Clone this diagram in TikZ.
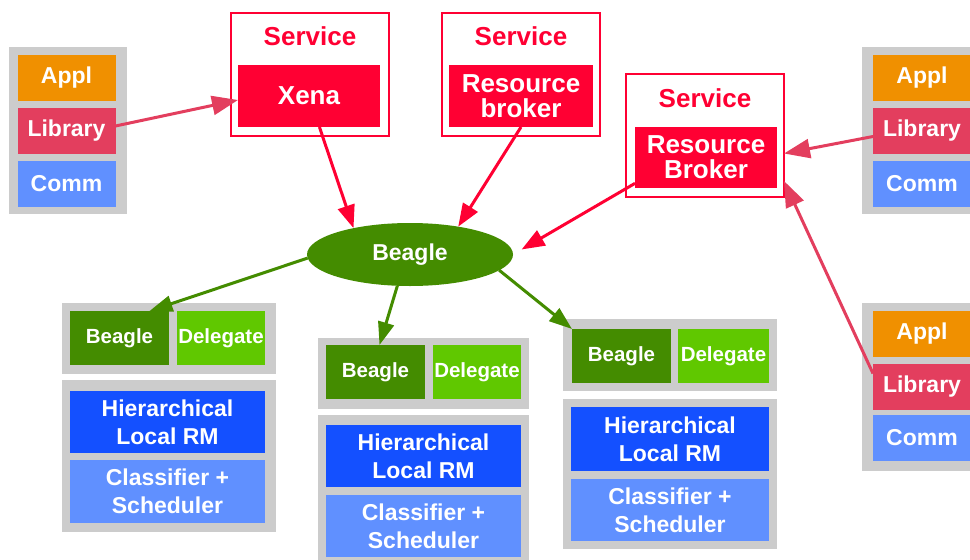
\documentclass[tikz,border=0pt]{standalone}
\usepackage{fontspec}
\setmainfont{Liberation Sans}
\usetikzlibrary{arrows.meta,shapes.geometric}
\definecolor{cgray}{HTML}{CCCCCC}
\definecolor{corange}{HTML}{F09000}
\definecolor{clib}{HTML}{E33E5E}
\definecolor{clblue}{HTML}{6090FF}
\definecolor{cblue}{HTML}{1450FF}
\definecolor{cdgreen}{HTML}{448C00}
\definecolor{clgreen}{HTML}{60C800}
\definecolor{cred}{HTML}{FF0033}
\begin{document}
\begin{tikzpicture}[x=1pt,y=-1pt,
  box/.style={inner sep=0pt, outer sep=0pt, text=white, align=center, font=\bfseries\fontsize{23}{28}\selectfont},
  bgbox/.style={inner sep=0pt, outer sep=0pt, fill=cgray},
  stk/.style={box, minimum width=98pt, minimum height=46pt},
  small/.style={box, minimum height=54pt, font=\bfseries\fontsize{20.5}{24}\selectfont},
  svcout/.style={inner sep=0pt, outer sep=0pt, draw=cred, line width=2.5pt, fill=white, minimum width=158pt, minimum height=123pt},
  svcin/.style={box, fill=cred, minimum height=62pt, font=\bfseries\fontsize{26}{25}\selectfont},
  svclabel/.style={inner sep=0pt, text=cred, font=\bfseries\fontsize{26}{28}\selectfont},
  redarr/.style={draw=cred, line width=3pt, -{Triangle[length=23pt,width=17pt]}},
  libarr/.style={draw=clib, line width=3pt, -{Triangle[length=26pt,width=19pt]}},
  grnarr/.style={draw=cdgreen, line width=3pt, -{Triangle[length=23pt,width=16pt]}}
]
\clip (0,0) rectangle (970,560);
\fill[white] (0,0) rectangle (970,560);

% left stack
\node[bgbox, minimum width=118pt, minimum height=167pt] (stk1) at (68,130.5) {};
\node[stk, fill=corange] (appl1) at (66.5,78) {Appl};
\node[stk, fill=clib] (lib1) at (66.5,131) {Library};
\node[stk, fill=clblue] (comm1) at (66.5,184) {Comm};

% top right stack
\node[bgbox, minimum width=119pt, minimum height=167pt] (stk2) at (921.5,130.5) {};
\node[stk, fill=corange] (appl2) at (922,78) {Appl};
\node[stk, fill=clib] (lib2) at (922,130.5) {Library};
\node[stk, fill=clblue] (comm2) at (922,184) {Comm};

% bottom right stack
\node[bgbox, minimum width=119pt, minimum height=168pt] (stk3) at (921.5,387) {};
\node[stk, fill=corange] (appl3) at (922,334) {Appl};
\node[stk, fill=clib] (lib3) at (922,386.5) {Library};
\node[stk, fill=clblue] (comm3) at (922,438) {Comm};

% services
\node[svcout] (xenaout) at (310,74.5) {};
\node[svclabel] (xenalab) at (310,36) {Service};
\node[svcin, minimum width=142pt] (xenain) at (309,96) {Xena};

\node[svcout] (rb1out) at (521,74.5) {};
\node[svclabel] (rb1lab) at (521,36) {Service};
\node[svcin, minimum width=144pt] (rb1in) at (521,96) {Resource\\broker};

\node[svcout] (rb2out) at (705,135.5) {};
\node[svclabel] (rb2lab) at (705,98) {Service};
\node[svcin, minimum width=142pt, minimum height=61pt] (rb2in) at (706,157.5) {Resource\\Broker};

% Beagle ellipse
\node[ellipse, fill=cdgreen, inner sep=0pt, outer sep=0pt, minimum width=206pt, minimum height=63pt, text=white, font=\bfseries\fontsize{23}{28}\selectfont] (beagle) at (410,254.5) {Beagle};

% group 1
\node[bgbox, minimum width=214pt, minimum height=71pt] (top1) at (169,338.5) {};
\node[small, fill=cdgreen, minimum width=99pt] (bg1) at (119.5,338) {Beagle};
\node[small, fill=clgreen, minimum width=88pt] (dl1) at (221,338) {Delegate};
\node[bgbox, minimum width=214pt, minimum height=152pt] (low1) at (169,456) {};
\node[box, fill=cblue, minimum width=195pt, minimum height=62pt] (hr1) at (167.5,422) {Hierarchical\\Local RM};
\node[box, fill=clblue, minimum width=195pt, minimum height=63pt] (cs1) at (167.5,491.5) {Classifier +\\Scheduler};

% group 2
\node[bgbox, minimum width=211pt, minimum height=71pt] (top2) at (423.5,373.5) {};
\node[small, fill=cdgreen, minimum width=99pt] (bg2) at (375.5,372) {Beagle};
\node[small, fill=clgreen, minimum width=88pt] (dl2) at (477,372) {Delegate};
\node[bgbox, minimum width=211pt, minimum height=152pt] (low2) at (423.5,491) {};
\node[box, fill=cblue, minimum width=195pt, minimum height=62pt] (hr2) at (423.5,456) {Hierarchical\\Local RM};
\node[box, fill=clblue, minimum width=195pt, minimum height=62pt] (cs2) at (423.5,526) {Classifier +\\Scheduler};

% group 3
\node[bgbox, minimum width=214pt, minimum height=72pt] (top3) at (670,355) {};
\node[small, fill=cdgreen, minimum width=99pt] (bg3) at (621.5,356) {Beagle};
\node[small, fill=clgreen, minimum width=91pt] (dl3) at (723.5,356) {Delegate};
\node[bgbox, minimum width=214pt, minimum height=150pt] (low3) at (670,474) {};
\node[box, fill=cblue, minimum width=198pt, minimum height=64pt] (hr3) at (670,439) {Hierarchical\\Local RM};
\node[box, fill=clblue, minimum width=198pt, minimum height=62pt] (cs3) at (670,510) {Classifier +\\Scheduler};

% connectors
\draw[libarr] ([yshift=5pt]lib1.east) -- ([yshift=-4pt]xenain.west);
\draw[libarr] ([yshift=-6pt]lib2.west) -- ([yshift=-18pt]rb2out.east);
\draw[libarr] ([yshift=13pt]lib3.west) -- ([yshift=16pt]rb2out.south east);

\draw[redarr] (xenain) -- (beagle.155);
\draw[redarr] (rb1in.south) -- (beagle.30);
\draw[redarr, shorten >=10pt] (rb2in.200) -- (beagle.east);

\draw[grnarr] (beagle.182) -- ([xshift=30pt]bg1.north);
\draw[grnarr] (beagle.248) -- ([xshift=4pt]bg2.north);
\draw[grnarr] (beagle.350) -- (bg3.north west);
\end{tikzpicture}
\end{document}
